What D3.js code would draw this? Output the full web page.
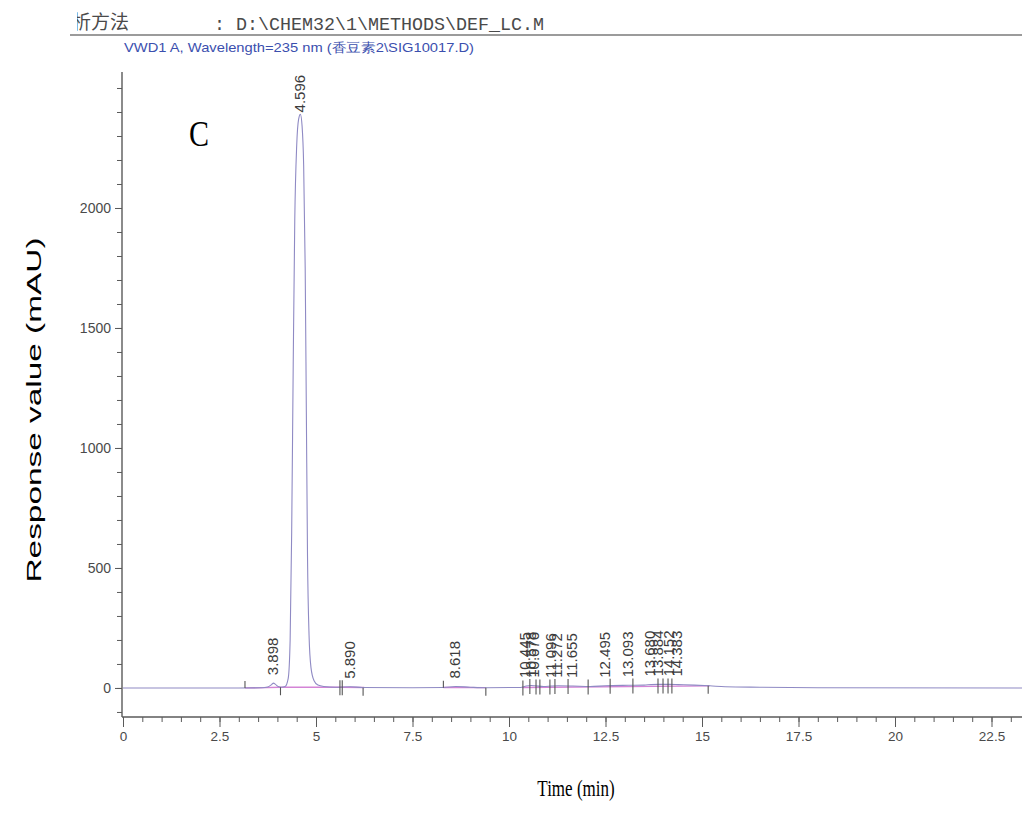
<!DOCTYPE html>
<html>
<head>
<meta charset="utf-8">
<script src="https://cdn.jsdelivr.net/npm/d3@7"></script>
<style>
  body { margin: 0; background: #fff; }
  svg { display: block; }
</style>
</head>
<body>
<svg id="chart" width="1022" height="824"></svg>
<script>
// Detector trace: retention time (min) and response (mAU)
const traceTime = [0, 3.0, 3.6, 3.75, 3.85, 3.898, 3.95, 4.02, 4.1, 4.2, 4.28, 4.33, 4.37, 4.41, 4.45, 4.50, 4.55, 4.596, 4.64, 4.68, 4.72, 4.75, 4.78, 4.82, 4.87, 4.95, 5.05, 5.2, 5.5, 5.89, 6.2, 7.5, 8.3, 8.618, 9.0, 9.4, 10.3, 10.445, 10.578, 10.676, 10.9, 11.096, 11.272, 11.655, 12.1, 12.495, 13.093, 13.5, 13.68, 13.884, 14.152, 14.383, 14.8, 15.2, 15.6, 16.5, 18, 23.32];
const traceSignal = [0, 0, 1, 4, 14, 20, 15, 6, 3, 6, 40, 200, 650, 1350, 1950, 2260, 2370, 2390, 2340, 2180, 1750, 1150, 550, 220, 85, 30, 12, 6, 3, 5, 2, 1, 2, 6, 3, 1, 2, 8, 10, 9, 6, 8, 9, 8, 6, 9, 11, 12, 14, 15, 15, 14, 12, 9, 5, 3, 1, 0];

// Integrated peaks: retention time labels and apex heights (mAU)
const peakLabels = ["3.898", "4.596", "5.890", "8.618", "10.445", "10.578", "10.676", "11.096", "11.272", "11.655", "12.495", "13.093", "13.680", "13.884", "14.152", "14.383"];
const peakHeights = [20, 2390, 5, 6, 8, 10, 9, 8, 9, 8, 9, 11, 14, 15, 15, 14];

// Integration baselines: [start time, start level, end time, end level]
const baseStartTime = [3.16, 4.08, 5.65, 8.3, 10.35];
const baseStartLevel = [0, 3, 3, 2, 2];
const baseEndTime = [4.08, 5.65, 6.25, 9.4, 15.2];
const baseEndLevel = [3, 3, 2, 1, 9];

// Integration event marks: time and direction (up = start, down = end, both = split)
const eventTime = [3.16, 4.08, 5.62, 5.68, 6.22, 8.3, 9.4, 10.36, 10.54, 10.70, 10.80, 11.06, 11.19, 11.53, 12.05, 12.62, 13.21, 13.86, 13.99, 14.12, 14.22, 15.16];
const eventKind = ["up", "down", "both", "both", "down", "up", "down", "both", "both", "both", "both", "both", "both", "both", "both", "both", "both", "both", "both", "both", "both", "down"];

// Axis ticks
const xMajorTicks = [0, 2.5, 5, 7.5, 10, 12.5, 15, 17.5, 20, 22.5];
const yLabelTicks = [0, 500, 1000, 1500, 2000];

const svg = d3.select("#chart");

const x = d3.scaleLinear().domain([0, 23.316]).range([123, 1023]);
const y = d3.scaleLinear().domain([-121, 2575]).range([717, 70]);

const gray = "#5a5a5a";

// Header line with method path
const header = svg.append("g");
header.append("clipPath").attr("id", "hclip")
  .append("rect").attr("x", 77).attr("y", 0).attr("width", 200).attr("height", 40);
header.append("text")
  .attr("x", 53).attr("y", 29)
  .attr("clip-path", "url(#hclip)")
  .attr("font-family", "Noto Sans CJK SC")
  .attr("font-size", 19)
  .attr("fill", "#4a4a4a")
  .text("分析方法");
header.append("text")
  .attr("x", 214).attr("y", 30)
  .attr("font-family", "Liberation Mono")
  .attr("font-size", 18)
  .attr("textLength", 330)
  .attr("lengthAdjust", "spacingAndGlyphs")
  .attr("fill", "#4a4a4a")
  .text(": D:\\CHEM32\\1\\METHODS\\DEF_LC.M");
header.append("line")
  .attr("x1", 70).attr("x2", 1022).attr("y1", 35).attr("y2", 35)
  .attr("stroke", "#7a7a7a").attr("stroke-width", 1.5);

svg.append("text")
  .attr("x", 124).attr("y", 52)
  .attr("font-family", "Liberation Sans")
  .attr("font-size", 13)
  .attr("textLength", 350)
  .attr("lengthAdjust", "spacingAndGlyphs")
  .attr("fill", "#3b4fae")
  .text("VWD1 A, Wavelength=235 nm (香豆素2\\SIG10017.D)");

// Y axis: minor ticks every 100, major every 500
const yMinor = d3.range(-100, 2501, 100);
svg.append("g")
  .attr("transform", "translate(122,0)")
  .call(d3.axisLeft(y).tickValues(yMinor).tickSize(5).tickFormat(""))
  .call(g => g.select(".domain").remove())
  .call(g => g.selectAll("line").attr("stroke", gray));
svg.append("g")
  .attr("transform", "translate(122,0)")
  .call(d3.axisLeft(y).tickValues(yLabelTicks).tickSize(7).tickPadding(4).tickFormat(d => String(d)))
  .call(g => g.select(".domain").remove())
  .call(g => g.selectAll("line").attr("stroke", gray))
  .call(g => g.selectAll("text")
    .attr("font-family", "Liberation Sans")
    .attr("font-size", 14)
    .attr("fill", "#4a4a4a"));
svg.append("line")
  .attr("x1", 122).attr("x2", 122).attr("y1", 72).attr("y2", 717)
  .attr("stroke", gray).attr("stroke-width", 1.4);

// X axis: minor ticks every 0.5 min
const xMinor = d3.range(0, 23.4, 0.5);
svg.append("g")
  .attr("transform", "translate(0,717)")
  .call(d3.axisBottom(x).tickValues(xMinor).tickSize(5).tickFormat(""))
  .call(g => g.select(".domain").remove())
  .call(g => g.selectAll("line").attr("stroke", gray));
svg.append("g")
  .attr("transform", "translate(0,717)")
  .call(d3.axisBottom(x).tickValues(xMajorTicks).tickSize(10).tickPadding(4).tickFormat(d => String(d)))
  .call(g => g.select(".domain").remove())
  .call(g => g.selectAll("line").attr("stroke", gray))
  .call(g => g.selectAll("text")
    .attr("font-family", "Liberation Sans")
    .attr("font-size", 13.5)
    .attr("fill", "#4a4a4a"));
svg.append("line")
  .attr("x1", 122).attr("x2", 1022).attr("y1", 717).attr("y2", 717)
  .attr("stroke", gray).attr("stroke-width", 1.4);

// Integration baselines
svg.append("g").selectAll("line")
  .data(d3.range(baseStartTime.length))
  .join("line")
  .attr("x1", i => x(baseStartTime[i]))
  .attr("y1", i => y(baseStartLevel[i]))
  .attr("x2", i => x(baseEndTime[i]))
  .attr("y2", i => y(baseEndLevel[i]))
  .attr("stroke", "#d484d6")
  .attr("stroke-width", 1.3);

// Detector signal
const trace = traceTime.map((t, i) => [t, traceSignal[i]]);
svg.append("path")
  .datum(trace)
  .attr("fill", "none")
  .attr("stroke", "#8f8ac4")
  .attr("stroke-width", 1.1)
  .attr("d", d3.line().x(d => x(d[0])).y(d => y(d[1])).curve(d3.curveMonotoneX));

// Event marks on the baseline
const levelAt = t => {
  const i = d3.bisectLeft(traceTime, t);
  if (i <= 0) return traceSignal[0];
  return Math.min(traceSignal[i - 1], traceSignal[i], 10);
};
svg.append("g").selectAll("line")
  .data(d3.range(eventTime.length))
  .join("line")
  .attr("x1", i => x(eventTime[i]))
  .attr("x2", i => x(eventTime[i]))
  .attr("y1", i => y(levelAt(eventTime[i])) - (eventKind[i] === "down" ? 0 : 7))
  .attr("y2", i => y(levelAt(eventTime[i])) + (eventKind[i] === "up" ? 0 : 8))
  .attr("stroke", "#555")
  .attr("stroke-width", 1.1);

// Retention time labels
svg.append("g").selectAll("text")
  .data(d3.range(peakLabels.length))
  .join("text")
  .attr("transform", i => `translate(${x(+peakLabels[i]) - 1},${y(peakHeights[i]) - (peakHeights[i] > 1000 ? 2 : 8)}) rotate(-90)`)
  .attr("dy", "0.35em")
  .attr("font-family", "Liberation Sans")
  .attr("font-size", 15)
  .attr("fill", "#3c3c3c")
  .text(i => peakLabels[i]);

// Panel letter
svg.append("text")
  .attr("transform", "translate(189,146) scale(1,1.2)")
  .attr("font-family", "Liberation Serif")
  .attr("font-size", 30)
  .attr("fill", "#000")
  .text("C");

// Axis titles
svg.append("text")
  .attr("transform", "translate(41,410) rotate(-90)")
  .attr("text-anchor", "middle")
  .attr("font-family", "Liberation Sans")
  .attr("font-size", 20)
  .attr("textLength", 345)
  .attr("lengthAdjust", "spacingAndGlyphs")
  .attr("fill", "#000")
  .text("Response value (mAU)");
svg.append("text")
  .attr("transform", "translate(576,796) scale(1,1.3)")
  .attr("text-anchor", "middle")
  .attr("font-family", "Liberation Serif")
  .attr("font-size", 17)
  .attr("fill", "#000")
  .text("Time (min)");
</script>
</body>
</html>
